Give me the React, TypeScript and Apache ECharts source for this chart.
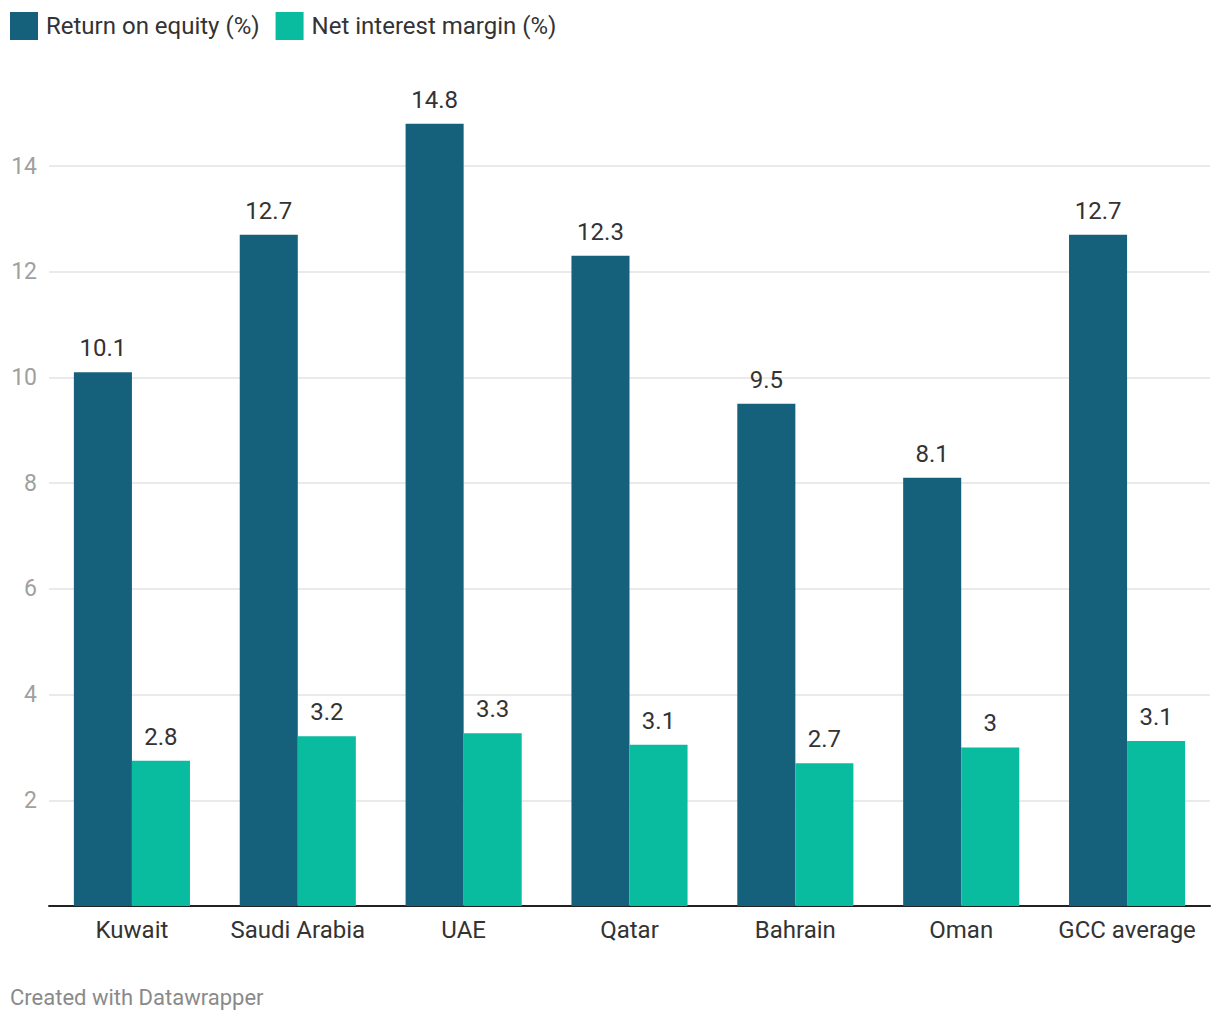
import React, { useEffect, useRef } from "react";
import * as echarts from "echarts";

const categories = ["Kuwait", "Saudi Arabia", "UAE", "Qatar", "Bahrain", "Oman", "GCC average"];
const roeValues = [10.1, 12.7, 14.8, 12.3, 9.5, 8.1, 12.7];
const nimValues = [2.75, 3.21, 3.27, 3.05, 2.7, 3.0, 3.12];
const seriesNames = ["Return on equity (%)", "Net interest margin (%)"];
const yTicks = { min: 0, max: 14, interval: 2 };
const footerText = "Created with Datawrapper";

const FONT = "Roboto, 'Noto Sans', sans-serif";
const fmt = (v: number) => String(Math.round(v * 10) / 10);

export default function App() {
  const ref = useRef<HTMLDivElement>(null);
  useEffect(() => {
    if (!ref.current) return;
    const chart = echarts.init(ref.current, null, { renderer: "svg" });
    const labelStyle = {
      show: true,
      position: "top" as const,
      distance: 12,
      fontFamily: FONT,
      fontSize: 24,
      color: "#333333",
      formatter: (p: any) => fmt(p.value),
    };
    chart.setOption({
      animation: false,
      textStyle: { fontFamily: FONT },
      legend: {
        left: 10,
        top: 12,
        padding: 0,
        itemWidth: 28,
        itemHeight: 28,
        itemGap: 16,
        icon: "rect",
        textStyle: { fontFamily: FONT, fontSize: 24, color: "#333333", padding: [0, 0, 0, 3] },
        data: seriesNames,
      },
      grid: { left: 49, right: 10, top: 166, bottom: 114, containLabel: false },
      xAxis: {
        type: "category",
        data: categories,
        axisLine: { show: true, lineStyle: { color: "#222222", width: 2 } },
        axisTick: { show: false },
        axisLabel: { interval: 0, hideOverlap: false, fontFamily: FONT, fontSize: 24, color: "#333333", margin: 12 },
      },
      yAxis: {
        type: "value",
        min: yTicks.min,
        max: yTicks.max,
        interval: yTicks.interval,
        axisLine: { show: false },
        axisTick: { show: false },
        axisLabel: { fontFamily: FONT, fontSize: 23, color: "#a0a0a0", margin: 12, showMinLabel: false },
        splitLine: { show: true, lineStyle: { color: "#e3e3e3", width: 1.5 } },
      },
      series: [
        {
          name: seriesNames[0],
          type: "bar",
          data: roeValues,
          clip: false,
          barGap: "0%",
          barCategoryGap: "30%",
          itemStyle: { color: "#15607a" },
          label: labelStyle,
        },
        {
          name: seriesNames[1],
          type: "bar",
          data: nimValues,
          clip: false,
          barGap: "0%",
          barCategoryGap: "30%",
          itemStyle: { color: "#09bb9f" },
          label: labelStyle,
        },
      ],
      graphic: [
        {
          type: "text",
          left: 10,
          top: 986,
          style: { text: footerText, fontFamily: FONT, fontSize: 22, fill: "#8a8a8a" },
        },
      ],
    });
    return () => chart.dispose();
  }, []);
  return <div ref={ref} style={{ width: 1220, height: 1020, position: "absolute", left: 0, top: 0 }} />;
}
